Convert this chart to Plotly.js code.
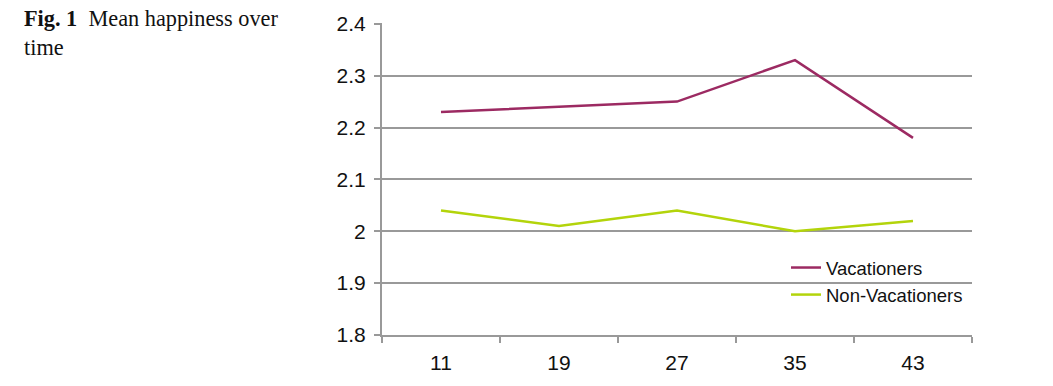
<!DOCTYPE html>
<html>
<head>
<meta charset="utf-8">
<script src="https://cdn.plot.ly/plotly-3.0.1.min.js"></script>
<style>html,body{margin:0;padding:0;background:#fff;}#chart{width:1053px;height:386px;}</style>
</head>
<body>
<div id="chart"></div>
<script>
var weeks = ["11", "19", "27", "35", "43"];
var vacationers = [2.23, 2.24, 2.25, 2.33, 2.18];
var nonVacationers = [2.04, 2.01, 2.04, 2.00, 2.02];
var yTicks = [1.8, 1.9, 2.0, 2.1, 2.2, 2.3, 2.4];
var yTickLabels = ["1.8", "1.9", "2", "2.1", "2.2", "2.3", "2.4"];

var traces = [
  {x: weeks, y: vacationers, name: "Vacationers", type: "scatter", mode: "lines",
   line: {color: "#9c2a62", width: 2.5}},
  {x: weeks, y: nonVacationers, name: "Non-Vacationers", type: "scatter", mode: "lines",
   line: {color: "#b3d40b", width: 2.5}}
];

var L = 382, R = 972, T = 23, B = 335;
var W = 1053, H = 386;
function px(x){ return (x - L) / (R - L); }
function py(y){ return (B - y) / (B - T); }

var layout = {
  width: W, height: H,
  margin: {l: L, r: W - R, t: T, b: H - B, pad: 0},
  paper_bgcolor: "#fff", plot_bgcolor: "#fff",
  font: {family: "Liberation Sans, Arial, sans-serif", size: 21, color: "#111"},
  showlegend: true,
  legend: {x: px(786), y: py(249), xanchor: "left", yanchor: "top",
           bgcolor: "rgba(0,0,0,0)", font: {size: 18.5}, tracegroupgap: 0, itemwidth: 30},
  xaxis: {type: "category", range: [-0.5, 4.5], tickson: "boundaries",
          ticks: "outside", ticklen: 6, tickcolor: "#999", tickwidth: 2,
          ticklabelstandoff: 8, tickfont: {size: 21},
          showline: true, linecolor: "#999", linewidth: 2,
          showgrid: false, zeroline: false, fixedrange: true},
  yaxis: {range: [1.8, 2.4015], tickvals: yTicks, ticktext: yTickLabels,
          ticks: "outside", ticklen: 6, tickcolor: "#999", tickwidth: 2,
          ticklabelstandoff: 4, tickfont: {size: 21},
          showline: true, linecolor: "#999", linewidth: 2,
          showgrid: true, gridcolor: "#999", gridwidth: 2,
          zeroline: false, fixedrange: true},
  shapes: [
    {type: "rect", layer: "between", xref: "paper", yref: "paper",
     x0: px(793), x1: px(923), y0: py(288), y1: py(278),
     fillcolor: "#fff", line: {width: 0}}
  ],
  annotations: [
    {xref: "paper", yref: "paper", x: px(22), y: py(4), xanchor: "left", yanchor: "top",
     align: "left", showarrow: false,
     text: "<b>Fig. 1</b>  Mean happiness over<br>time",
     font: {family: "Liberation Serif, Times New Roman, serif", size: 22.3, color: "#111"}}
  ]
};

Plotly.newPlot("chart", traces, layout, {displayModeBar: false, staticPlot: true});
</script>
</body>
</html>
